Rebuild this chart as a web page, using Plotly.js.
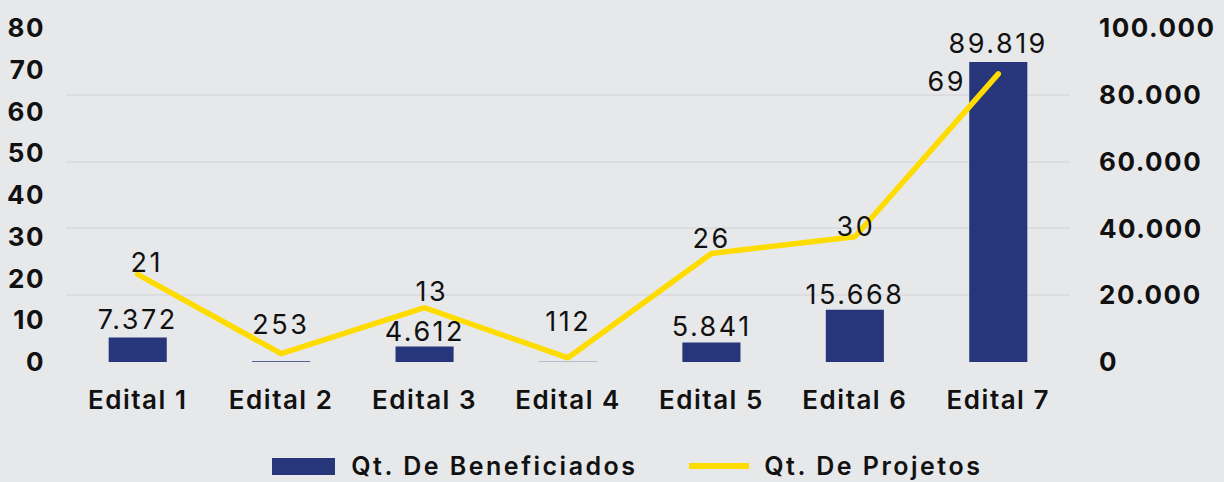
<!DOCTYPE html>
<html>
<head>
<meta charset="utf-8">
<script src="https://cdn.plot.ly/plotly-3.0.1.min.js"></script>
<style>
html,body{margin:0;padding:0;background:#e7e8ea;}
#chart{width:1224px;height:482px;}
#chart .xtick text, #chart .ytick text, #chart .y2tick text { letter-spacing: 1.5px; }
#chart .annotation-text { letter-spacing: 2.5px; }
#chart .scatterlayer path.js-line { stroke-linecap: round; stroke-linejoin: round; }
</style>
</head>
<body>
<div id="chart"></div>
<script>
// ---- data ----
const categories = ["Edital 1","Edital 2","Edital 3","Edital 4","Edital 5","Edital 6","Edital 7"];
const beneficiados = [7372, 253, 4612, 112, 5841, 15668, 89819];
const projetos = [21, 2, 13, 1, 26, 30, 69];
const projetosLabels = ["21", "", "13", "", "26", "30", "69"];
const leftTicks = [0,10,20,30,40,50,60,70,80];
const rightTicks = [0,20000,40000,60000,80000,100000];
const rightTickText = ["0","20.000","40.000","60.000","80.000","100.000"];
const seriesNames = ["Qt. De Beneficiados", "Qt. De Projetos"];

// ---- helpers ----
function fmt(n){ return n.toString().replace(/\B(?=(\d{3})+(?!\d))/g, "."); }

const FONT = "Inter, Roboto, 'Noto Sans', sans-serif";
const barColor = "#27357a";
const lineColor = "#ffdc00";
const txtColor = "#111111";

// label offsets (styling only)
const barLabelShift = [18, 37, 15, 40, 16, 15, 19];
const lineLabelDX = [9, 0, 7, 0, 0, 1, -51];
const lineLabelDY = [12, 0, 16, 0, 15, 10, -8];

const traces = [
  {
    type: "bar",
    name: seriesNames[0],
    x: categories,
    y: beneficiados,
    yaxis: "y",
    marker: {color: barColor},
    width: 0.405,
    hoverinfo: "none",
    showlegend: false
  },
  {
    type: "scatter",
    mode: "lines",
    name: seriesNames[1],
    x: categories,
    y: projetos,
    yaxis: "y2",
    line: {color: lineColor, width: 5.5},
    cliponaxis: false,
    hoverinfo: "none",
    showlegend: false
  }
];

const annotations = categories.map((c, i) => ({
  x: c, y: beneficiados[i], xref: "x", yref: "y",
  text: fmt(beneficiados[i]),
  showarrow: false,
  yanchor: "middle",
  yshift: barLabelShift[i],
  font: {family: FONT, size: 27, color: txtColor}
}));

categories.forEach((c, i) => {
  if (!projetosLabels[i]) return;
  annotations.push({
    x: c, y: projetos[i], xref: "x", yref: "y2",
    text: projetosLabels[i],
    showarrow: false,
    yanchor: "middle",
    xshift: lineLabelDX[i],
    yshift: lineLabelDY[i],
    font: {family: FONT, size: 27, color: txtColor}
  });
});

// custom legend (layout positions in paper coords)
const PL = 66, PR = 1070, PT = 28, PB = 362;
const px = v => (v - PL) / (PR - PL);
const py = v => (PB - v) / (PB - PT);
const legY = 466;

annotations.push(
  {xref: "paper", yref: "paper", x: px(494), y: py(legY), xanchor: "center", yanchor: "middle",
   text: seriesNames[0], showarrow: false, font: {family: FONT, size: 25, color: txtColor, weight: 600}},
  {xref: "paper", yref: "paper", x: px(873), y: py(legY), xanchor: "center", yanchor: "middle",
   text: seriesNames[1], showarrow: false, font: {family: FONT, size: 25, color: txtColor, weight: 600}}
);

const shapes = [
  {type: "rect", xref: "paper", yref: "paper",
   x0: px(272), x1: px(335), y0: py(475), y1: py(458),
   fillcolor: barColor, line: {width: 0}},
  {type: "line", xref: "paper", yref: "paper",
   x0: px(689), x1: px(749), y0: py(legY), y1: py(legY),
   line: {color: lineColor, width: 6}}
];

const layout = {
  width: 1224, height: 482,
  paper_bgcolor: "#e7e8ea",
  plot_bgcolor: "#e7e8ea",
  margin: {l: PL, r: 1224 - PR, t: PT, b: 482 - PB},
  showlegend: false,
  bargap: 0.6,
  xaxis: {
    showgrid: false, zeroline: false, showline: false,
    tickfont: {family: FONT, size: 26, color: txtColor, weight: 600},
    ticks: "", ticklabelstandoff: 20,
    fixedrange: true
  },
  yaxis: {
    range: [0, 100000], tickvals: rightTicks, ticktext: rightTickText,
    side: "right",
    showgrid: true, gridcolor: "#dcdde0", gridwidth: 2,
    zeroline: false, showline: false,
    tickfont: {family: FONT, size: 26, color: txtColor, weight: 700},
    ticks: "", ticklabelstandoff: 28,
    fixedrange: true
  },
  yaxis2: {
    range: [0, 80], tickvals: leftTicks, ticktext: leftTicks.map(String),
    overlaying: "y", side: "left",
    showgrid: false, zeroline: false, showline: false,
    tickfont: {family: FONT, size: 26, color: txtColor, weight: 700},
    ticks: "", ticklabelstandoff: 20,
    fixedrange: true
  },
  annotations: annotations,
  shapes: shapes
};

Plotly.newPlot("chart", traces, layout, {displayModeBar: false, staticPlot: true});
</script>
</body>
</html>
